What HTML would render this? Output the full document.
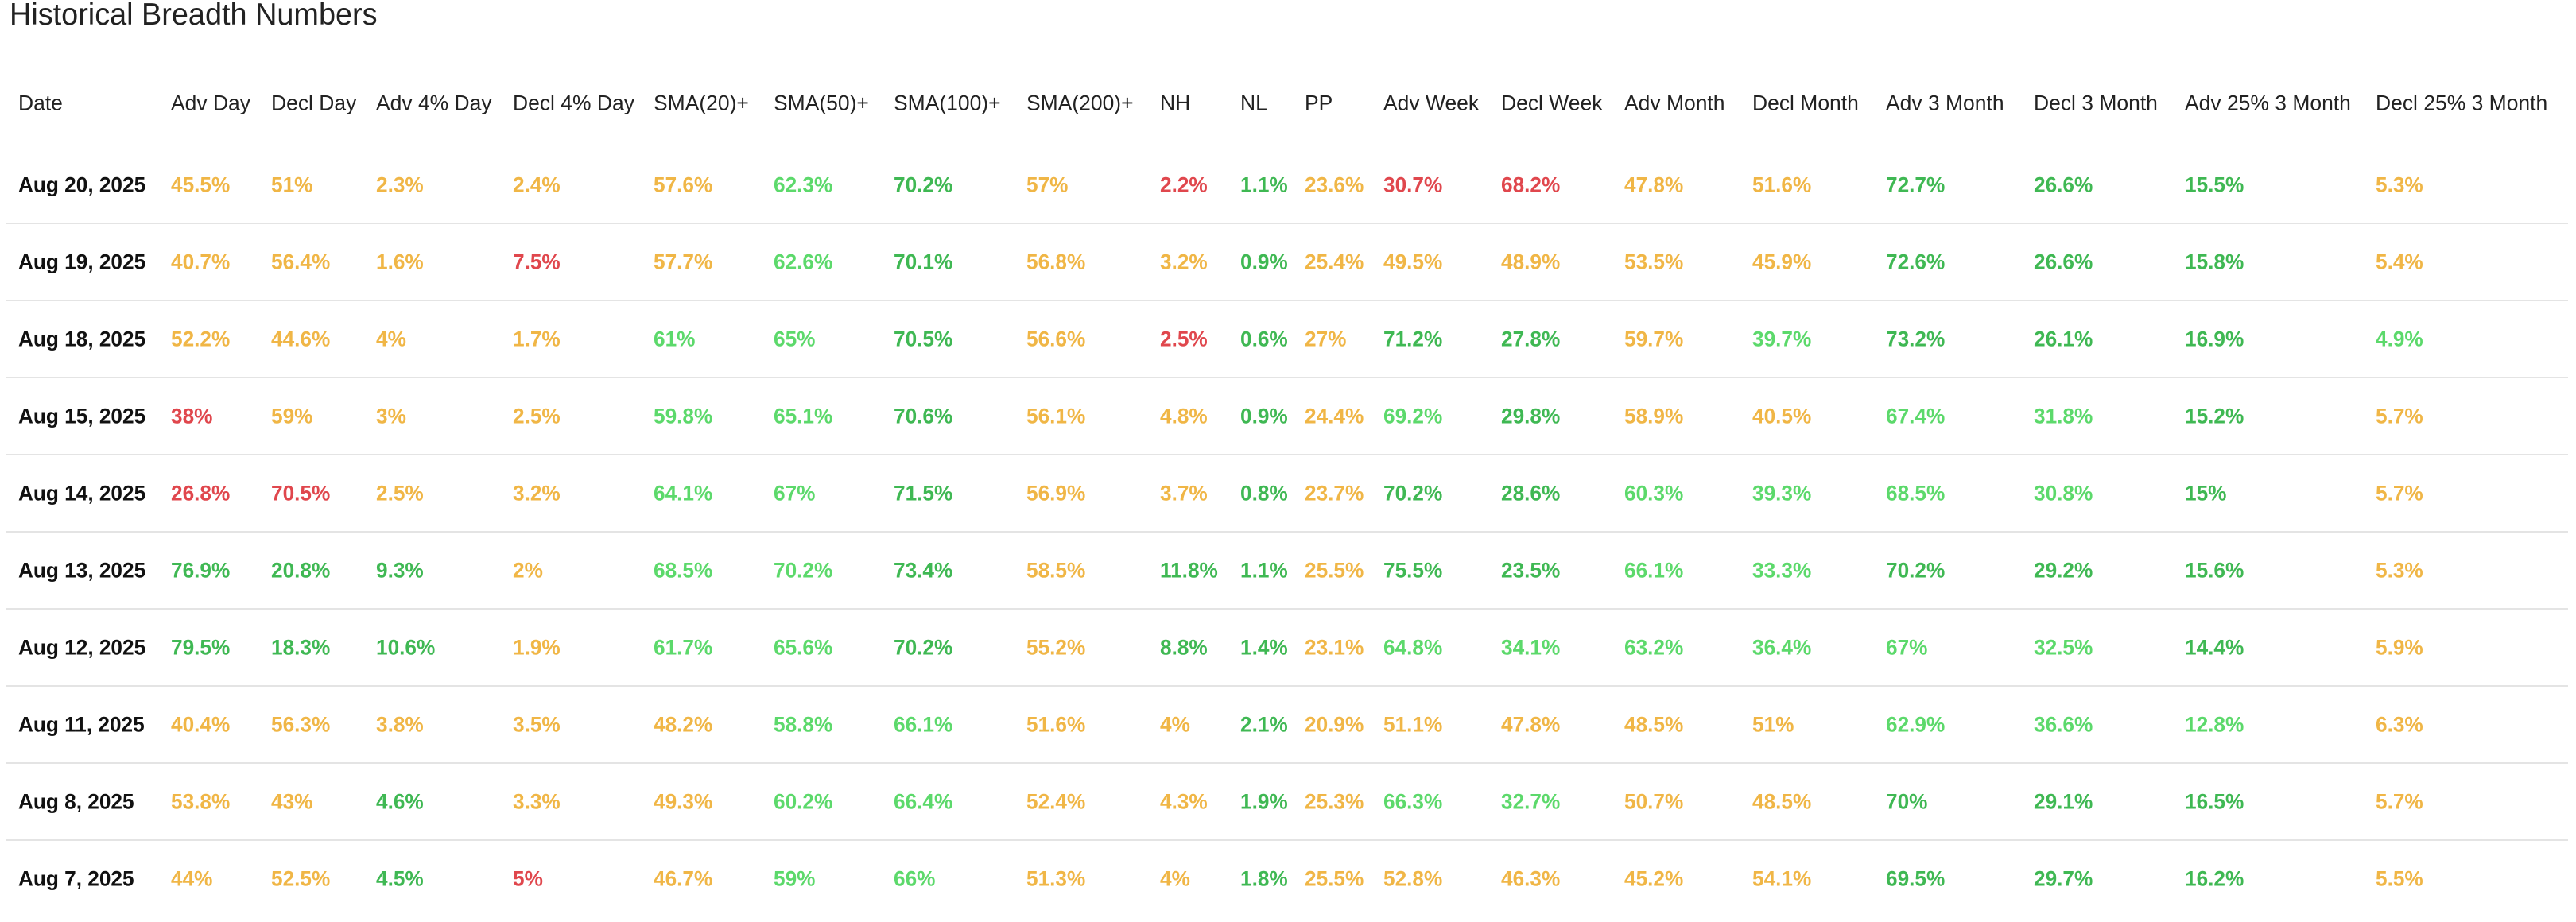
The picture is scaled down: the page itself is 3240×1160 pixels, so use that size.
<!DOCTYPE html>
<html><head><meta charset="utf-8">
<style>
html,body{margin:0;padding:0;background:#fff;width:3240px;height:1160px;overflow:hidden;font-family:"Liberation Sans",Arial,sans-serif;}
#wrap{position:relative;width:3240px;height:1160px;}
.t{position:absolute;white-space:nowrap;transform-origin:0 50%;line-height:1;}
#title{left:12px;top:-1px;font-size:39px;color:#222;transform:scaleX(0.97);transform-origin:0 0;}
.hd{font-size:27px;color:#222;transform:translateY(-50%) scaleX(0.98);}
.dt{font-size:27px;color:#111;font-weight:bold;transform:translateY(-50%) scaleX(0.97);}
.v{font-size:27px;font-weight:bold;transform:translateY(-50%) scaleX(0.97);}
.sep{position:absolute;left:8px;width:3222px;height:2px;background:#e4e4e4;}
</style></head><body>
<div id="wrap">
<div id="title" class="t">Historical Breadth Numbers</div>
</div>
<script>
const headers=["Date","Adv Day","Decl Day","Adv 4% Day","Decl 4% Day","SMA(20)+","SMA(50)+","SMA(100)+","SMA(200)+","NH","NL","PP","Adv Week","Decl Week","Adv Month","Decl Month","Adv 3 Month","Decl 3 Month","Adv 25% 3 Month","Decl 25% 3 Month"];
const dates=["Aug 20, 2025","Aug 19, 2025","Aug 18, 2025","Aug 15, 2025","Aug 14, 2025","Aug 13, 2025","Aug 12, 2025","Aug 11, 2025","Aug 8, 2025","Aug 7, 2025"];
const values=[
["45.5%","51%","2.3%","2.4%","57.6%","62.3%","70.2%","57%","2.2%","1.1%","23.6%","30.7%","68.2%","47.8%","51.6%","72.7%","26.6%","15.5%","5.3%"],
["40.7%","56.4%","1.6%","7.5%","57.7%","62.6%","70.1%","56.8%","3.2%","0.9%","25.4%","49.5%","48.9%","53.5%","45.9%","72.6%","26.6%","15.8%","5.4%"],
["52.2%","44.6%","4%","1.7%","61%","65%","70.5%","56.6%","2.5%","0.6%","27%","71.2%","27.8%","59.7%","39.7%","73.2%","26.1%","16.9%","4.9%"],
["38%","59%","3%","2.5%","59.8%","65.1%","70.6%","56.1%","4.8%","0.9%","24.4%","69.2%","29.8%","58.9%","40.5%","67.4%","31.8%","15.2%","5.7%"],
["26.8%","70.5%","2.5%","3.2%","64.1%","67%","71.5%","56.9%","3.7%","0.8%","23.7%","70.2%","28.6%","60.3%","39.3%","68.5%","30.8%","15%","5.7%"],
["76.9%","20.8%","9.3%","2%","68.5%","70.2%","73.4%","58.5%","11.8%","1.1%","25.5%","75.5%","23.5%","66.1%","33.3%","70.2%","29.2%","15.6%","5.3%"],
["79.5%","18.3%","10.6%","1.9%","61.7%","65.6%","70.2%","55.2%","8.8%","1.4%","23.1%","64.8%","34.1%","63.2%","36.4%","67%","32.5%","14.4%","5.9%"],
["40.4%","56.3%","3.8%","3.5%","48.2%","58.8%","66.1%","51.6%","4%","2.1%","20.9%","51.1%","47.8%","48.5%","51%","62.9%","36.6%","12.8%","6.3%"],
["53.8%","43%","4.6%","3.3%","49.3%","60.2%","66.4%","52.4%","4.3%","1.9%","25.3%","66.3%","32.7%","50.7%","48.5%","70%","29.1%","16.5%","5.7%"],
["44%","52.5%","4.5%","5%","46.7%","59%","66%","51.3%","4%","1.8%","25.5%","52.8%","46.3%","45.2%","54.1%","69.5%","29.7%","16.2%","5.5%"]];
const tones=[
"OOOOOLGORGORROOGGGO",
"OOOROLGOOGOOOOOGGGO",
"OOOOLLGORGOGGOLGGGL",
"ROOOLLGOOGOLGOOLLGO",
"RROOLLGOOGOGGLLLLGO",
"GGGOLLGOGGOGGLLGGGO",
"GGGOLLGOGGOLLLLLLGO",
"OOOOOLLOOGOOOOOLLLO",
"OOGOOLLOOGOLLOOGGGO",
"OOGROLLOOGOOOOOGGGO"];
const palette={O:"#f0b646",R:"#e0474d",G:"#3fb853",L:"#5cd96b"};
const colX=[23,215,341,473,645,822,973,1124,1291,1459,1560,1641,1740,1888,2043,2204,2372,2558,2748,2988];
const headerY=130, rowY0=233, rowPitch=97;
const wrap=document.getElementById('wrap');
function mk(cls,txt,x,y){const d=document.createElement('div');d.className='t '+cls;d.textContent=txt;d.style.left=x+'px';d.style.top=y+'px';wrap.appendChild(d);return d;}
headers.forEach((h,i)=>{const d=mk('hd',h,colX[i],headerY);

});
dates.forEach((dt,r)=>{const y=rowY0+r*rowPitch;
const d=mk('dt',dt,colX[0],y);


values[r].forEach((v,c)=>{const e=mk('v',v,colX[c+1],y);e.style.color=palette[tones[r][c]]||palette.O;

});
if(r<dates.length-1){const s=document.createElement('div');s.className='sep';s.style.top=(y+47)+'px';


wrap.appendChild(s);}
});
</script>
</body></html>
